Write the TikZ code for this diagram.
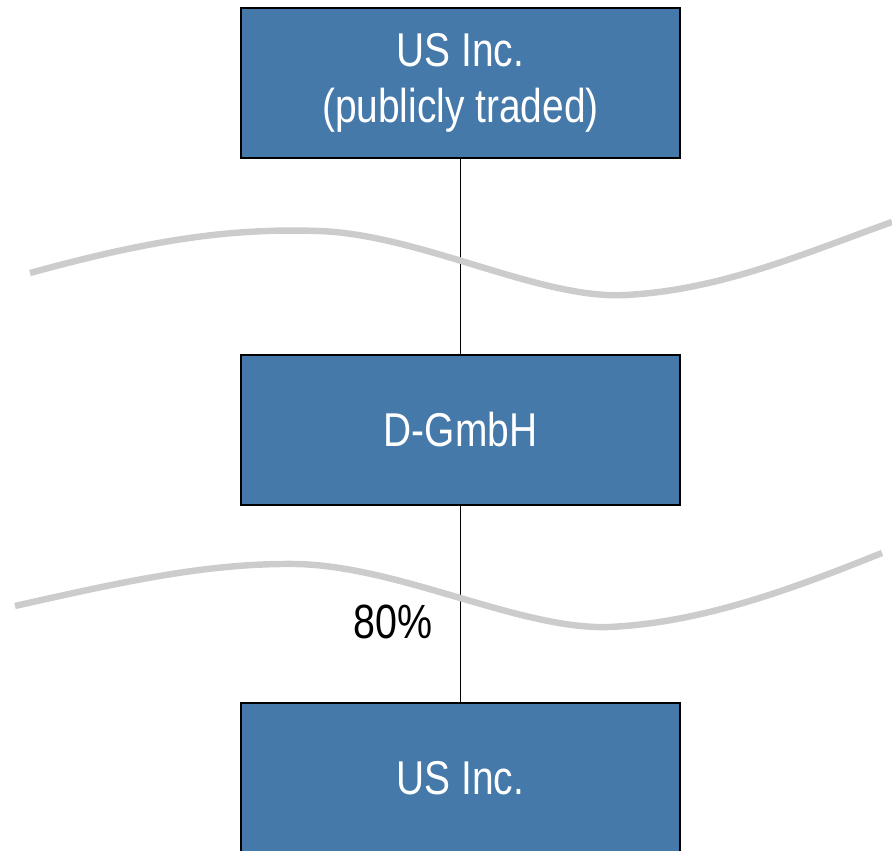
\documentclass[tikz,border=0pt]{standalone}
\usepackage{fontspec}
\setmainfont{Liberation Sans}[FakeStretch=0.82]
\usepackage{tikz}
\definecolor{orgblue}{RGB}{68,121,170}
\definecolor{cutgray}{RGB}{204,204,204}
\tikzset{
  orgbox/.style={rectangle, draw=black, line width=1.2pt, fill=orgblue,
                 text=white, minimum width=13.17cm, minimum height=4.5cm,
                 align=center, inner sep=0pt,
                 font=\fontsize{40.5}{48}\selectfont},
  orglink/.style={draw, black, line width=1pt},
  orgcut/.style={draw, cutgray, line width=5.5pt},
  orgnote/.style={font=\fontsize{41}{46}\selectfont, text=black}
}
\begin{document}
\begin{tikzpicture}[x=0.03cm, y=-0.03cm]
  \useasboundingbox (0,0) rectangle (892,851);
  % entities
  \node[orgbox] (usparent) at (460.5, 83) {US Inc.\\(publicly traded)};
  \node[orgbox] (dgmbh) at (460.5, 430) {D-GmbH};
  \node[orgbox] (ussub) at (460.5, 778) {US Inc.};
  \draw[orglink] (usparent) -- (dgmbh);
  \draw[orglink] (dgmbh) -- (ussub);
  % border lines
  \draw[orgcut] (30,273) .. controls (150,240) and (230,228) .. (318,231)
    .. controls (420,234) and (540,300) .. (626,295)
    .. controls (720,290) and (800,255) .. (892,222);
  \draw[orgcut] (15,606) .. controls (130,580) and (210,563) .. (296,564)
    .. controls (400,566) and (520,630) .. (609,627)
    .. controls (700,623) and (790,590) .. (882,553);
  \node[orgnote] (share) at (393, 622) {80\%};
\end{tikzpicture}
\end{document}
